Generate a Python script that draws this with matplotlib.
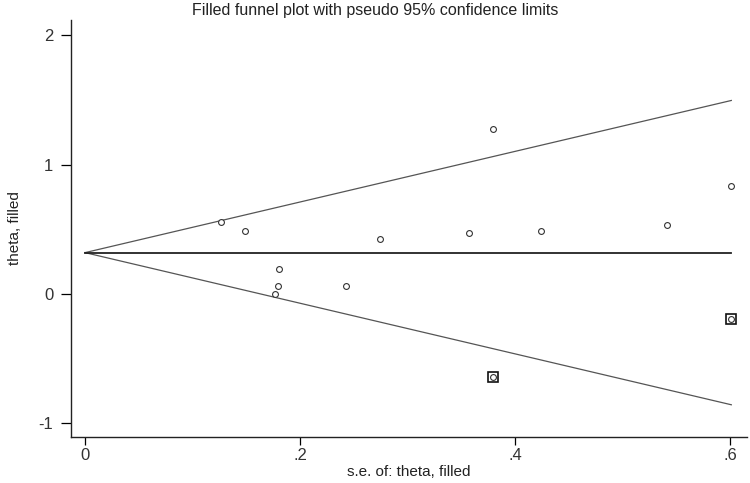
import matplotlib
matplotlib.use("Agg")
import matplotlib.pyplot as plt
import numpy as np

plt.rcParams['font.family'] = ['Liberation Sans', 'DejaVu Sans']
plt.rcParams['axes.unicode_minus'] = False

# observed studies: standard error and effect (theta)
se_obs = [0.126, 0.149, 0.180, 0.179, 0.177, 0.243, 0.274, 0.357, 0.379, 0.424, 0.541, 0.601]
theta_obs = [0.555, 0.490, 0.193, 0.059, 0.002, 0.059, 0.428, 0.469, 1.277, 0.490, 0.536, 0.833]

# filled (imputed) studies
se_fill = [0.379, 0.601]
theta_fill = [-0.641, -0.194]

theta_pooled = 0.319
se_max = 0.601

x_ticks = [0, 0.2, 0.4, 0.6]
x_ticklabels = ["0", ".2", ".4", ".6"]
y_ticks = [-1, 0, 1, 2]

fig = plt.figure(figsize=(7.5, 4.83), dpi=100)
ax = fig.add_axes([0.0943, 0.0959, 0.902, 0.8627])

# pseudo 95% confidence limits
se_line = np.array([0, se_max])
ax.plot(se_line, theta_pooled + 1.96 * se_line, color="#555555", lw=0.9)
ax.plot(se_line, theta_pooled - 1.96 * se_line, color="#555555", lw=0.9)
ax.plot(se_line, [theta_pooled, theta_pooled], color="#222222", lw=1.3)

ax.plot(se_obs, theta_obs, "o", ms=4.2, mfc="white", mec="#333333", mew=0.8, ls="none")
ax.plot(se_fill, theta_fill, "o", ms=4.2, mfc="white", mec="#333333", mew=0.8, ls="none")
ax.plot(se_fill, theta_fill, "s", ms=7, mfc="none", mec="#111111", mew=1.2, ls="none")

ax.set_xlim(-0.0133, 0.6158)
ax.set_ylim(-1.106, 2.12)
ax.set_xticks(x_ticks)
ax.set_xticklabels(x_ticklabels)
ax.set_yticks(y_ticks)

for s in ["top", "right"]:
    ax.spines[s].set_visible(False)
for s in ["left", "bottom"]:
    ax.spines[s].set_linewidth(1.0)
    ax.spines[s].set_color("#222222")

ax.tick_params(axis="y", length=7.5, width=0.9, pad=5, labelsize=12, labelcolor="#333333")
ax.tick_params(axis="x", length=5.5, width=0.9, pad=3, labelsize=12, labelcolor="#333333")

ax.set_xlabel("s.e. of: theta, filled", fontsize=11, color="#222222", labelpad=1)
ax.set_ylabel("theta, filled", fontsize=11, color="#222222", labelpad=12)
fig.text(0.5, 0.978, "Filled funnel plot with pseudo 95% confidence limits",
         ha="center", va="center", fontsize=11.5, color="#222222")

fig.savefig("out.png", dpi=100)
